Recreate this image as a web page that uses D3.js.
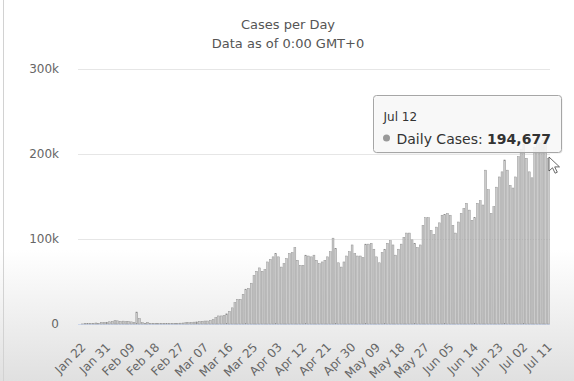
<!DOCTYPE html>
<html>
<head>
<meta charset="utf-8">
<script src="https://cdn.jsdelivr.net/npm/d3@7"></script>
<style>
  body { margin: 0; background: #fff; }
  svg { display: block; font-family: 'DejaVu Sans', sans-serif; }
</style>
</head>
<body>
<div class="holder"></div>
<script>
const width = 574;
const height = 381;

// daily new cases (Jan 22 .. Jul 12)
const startDay = new Date(2020, 0, 22);
const janCases = [0, 100, 290, 490, 680, 810, 1200, 900, 2070, 1690];
const febCases = [2110, 2600, 3100, 3900, 3700, 3200, 3400, 2700, 3100, 2500,
  2000, 14100, 6500, 1500, 900, 2000, 700, 600, 500, 500,
  600, 500, 400, 500, 600, 700, 800, 1000, 1200];
const marCases = [1500, 1700, 2000, 2200, 2500, 3000, 3200, 3500, 3500, 4200,
  5000, 7500, 9500, 9500, 10000, 12000, 15000, 19000, 25000, 29000,
  29000, 35000, 41000, 42000, 48000, 57000, 62000, 66000, 62000, 64000, 73000];
const aprCases = [76000, 79000, 83000, 79000, 67000, 71000, 77000, 83000, 84000, 90000,
  75000, 69000, 69000, 81000, 80000, 79000, 81000, 75000, 71000, 73000,
  75000, 79000, 85000, 101000, 89000, 72000, 67000, 73000, 80000, 85000];
const mayCases = [93000, 83000, 80000, 80000, 78000, 94000, 94000, 95000, 88000, 79000,
  72000, 84000, 88000, 95000, 98000, 93000, 81000, 88000, 94000, 102000,
  107000, 107000, 99000, 95000, 90000, 93000, 116000, 125000, 125000, 110000, 105000];
const junCases = [114000, 119000, 128000, 129000, 130000, 128000, 116000, 107000, 120000, 130000,
  136000, 142000, 134000, 122000, 125000, 142000, 145000, 140000, 181000, 158000,
  130000, 138000, 161000, 173000, 179000, 193000, 181000, 163000, 160000, 173000];
const julCases = [197000, 205000, 211000, 195000, 179000, 172000, 208000, 214000, 213000, 216000,
  220000, 194677];

const dailyCases = [].concat(janCases, febCases, marCases, aprCases, mayCases, junCases, julCases);

const yTicks = [0, 100000, 200000, 300000];
const yTickLabels = ['0', '100k', '200k', '300k'];
const xTickLabels = ['Jan 22', 'Jan 31', 'Feb 09', 'Feb 18', 'Feb 27', 'Mar 07', 'Mar 16',
  'Mar 25', 'Apr 03', 'Apr 12', 'Apr 21', 'Apr 30', 'May 09', 'May 18', 'May 27',
  'Jun 05', 'Jun 14', 'Jun 23', 'Jul 02', 'Jul 11'];

const tooltipIndex = dailyCases.length - 1;
const tooltipName = 'Daily Cases';

const fmtDay = d3.timeFormat('%b %d');
const fmtTip = d3.timeFormat('%b %-d');
const days = dailyCases.map((d, i) => d3.timeDay.offset(startDay, i));
const dayLabels = days.map(d => fmtDay(d));

const svg = d3
  .select('.holder')
  .append('svg')
  .attr('width', width)
  .attr('height', height);

// video-like shading at the bottom
const grad = svg.append('defs')
  .append('linearGradient')
  .attr('id', 'shade')
  .attr('x1', 0).attr('y1', 0).attr('x2', 0).attr('y2', 1);
grad.append('stop').attr('offset', '0%').attr('stop-color', '#fff');
grad.append('stop').attr('offset', '100%').attr('stop-color', '#e0e0e0');

svg.append('rect')
  .attr('x', 0).attr('y', 250)
  .attr('width', width).attr('height', height - 250)
  .attr('fill', 'url(#shade)');

svg.append('line')
  .attr('x1', 3.5).attr('x2', 3.5)
  .attr('y1', 0).attr('y2', height)
  .attr('stroke', '#d2d2d2');

const xScale = d3.scaleBand()
  .domain(dayLabels)
  .range([78.6, 549.3])
  .paddingInner(0.3);

const yScale = d3.scaleLinear()
  .domain([0, 300000])
  .range([324, 69]);

svg.append('text')
  .attr('x', 288)
  .attr('y', 29)
  .attr('text-anchor', 'middle')
  .style('font-size', '13px')
  .style('fill', '#555')
  .text('Cases per Day');

svg.append('text')
  .attr('x', 288)
  .attr('y', 48)
  .attr('text-anchor', 'middle')
  .style('font-size', '13px')
  .style('fill', '#555')
  .text('Data as of 0:00 GMT+0');

// grid
svg.append('g')
  .selectAll('line')
  .data(yTicks)
  .enter()
  .append('line')
  .attr('x1', 78)
  .attr('x2', 550)
  .attr('y1', d => Math.round(yScale(d)) + 0.5)
  .attr('y2', d => Math.round(yScale(d)) + 0.5)
  .attr('stroke', d => (d === 0 ? '#ccd6eb' : '#e6e6e6'));

svg.append('g')
  .selectAll('text')
  .data(yTicks)
  .enter()
  .append('text')
  .attr('x', 59)
  .attr('y', d => yScale(d))
  .attr('dy', '0.35em')
  .attr('text-anchor', 'end')
  .style('font-size', '12px')
  .style('fill', '#666')
  .text((d, i) => yTickLabels[i]);

// bars
svg.append('g')
  .selectAll('rect')
  .data(dailyCases)
  .enter()
  .append('rect')
  .attr('x', (d, i) => xScale(dayLabels[i]))
  .attr('y', d => yScale(d))
  .attr('width', xScale.bandwidth())
  .attr('height', d => yScale(0) - yScale(d))
  .style('fill', '#cbcbcb')
  .style('stroke', '#8e8e8e')
  .style('stroke-width', 0.45);

// x labels
svg.append('g')
  .selectAll('text')
  .data(xTickLabels)
  .enter()
  .append('text')
  .attr('transform', d => {
    const cx = xScale(d) + xScale.bandwidth() / 2;
    return 'translate(' + (cx + 4) + ',345) rotate(-45)';
  })
  .attr('text-anchor', 'end')
  .attr('dy', '0.35em')
  .style('font-size', '12px')
  .style('fill', '#666')
  .text(d => d);

// tooltip
const tip = svg.append('g').attr('transform', 'translate(373.5,95.5)');
tip.append('rect')
  .attr('x', 1).attr('y', 1)
  .attr('width', 188).attr('height', 57)
  .attr('rx', 3)
  .attr('fill', 'rgba(0,0,0,0.08)');
tip.append('rect')
  .attr('width', 188).attr('height', 57)
  .attr('rx', 3)
  .attr('fill', 'rgba(250,250,250,0.85)')
  .attr('stroke', '#a6a6a6');
tip.append('text')
  .attr('x', 10).attr('y', 25)
  .style('font-size', '12px')
  .style('fill', '#333')
  .text(fmtTip(days[tooltipIndex]));
tip.append('circle')
  .attr('cx', 13).attr('cy', 42.5).attr('r', 3.5)
  .attr('fill', '#999');
const line2 = tip.append('text')
  .attr('x', 23).attr('y', 48)
  .style('font-size', '14px')
  .style('fill', '#333');
line2.append('tspan').text(tooltipName + ': ');
line2.append('tspan')
  .style('font-weight', 'bold')
  .text(d3.format(',')(dailyCases[tooltipIndex]));

// mouse pointer
svg.append('path')
  .attr('d', 'M549,157 l0,14 l3.5,-3.2 l2.6,5.4 l2.2,-1 l-2.6,-5.3 l4.8,0 z')
  .attr('fill', '#fff')
  .attr('stroke', '#444')
  .attr('stroke-width', 0.8);
</script>
</body>
</html>
